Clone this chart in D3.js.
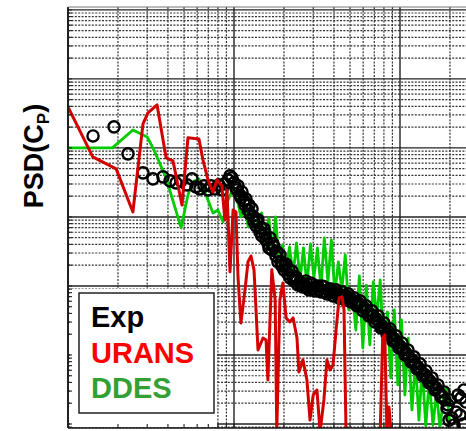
<!DOCTYPE html>
<html>
<head>
<meta charset="utf-8">
<script src="https://cdn.jsdelivr.net/npm/d3@7"></script>
<style>
  html, body { margin: 0; padding: 0; background: #fff; }
  svg { display: block; }
</style>
</head>
<body>
<svg id="chart" width="466" height="431"></svg>
<script>
// Experimental spectrum (measured frequencies and PSD of Cp)
const expFreq = [
  1.415, 1.893, 2.298, 2.83, 3.25, 3.736, 4.117, 4.474, 4.795, 5.21,
  5.585, 5.90, 6.24, 6.60, 6.97, 7.27, 7.68, 8.12, 8.47, 8.83,
  9.20, 9.46, 9.72, 10.0, 10.28, 10.57, 10.87, 11.17, 11.49, 11.81,
  12.14, 12.49, 12.84, 13.2, 13.57, 13.95, 14.34, 14.75, 15.16, 15.59,
  16.03, 16.48, 16.94, 17.42, 17.91, 18.41, 18.93, 19.46, 20.0, 20.57,
  21.15, 21.75, 22.36, 22.98, 23.63, 24.29, 24.97, 26.04, 27.15, 28.3,
  29.5, 30.76, 32.06, 33.42, 34.84, 36.33, 37.87, 39.48, 41.17, 42.91,
  44.74, 46.65, 48.62, 50.69, 52.85, 55.08, 57.41, 59.85, 62.4, 65.05,
  67.8, 70.7, 73.7, 76.8, 80.1, 83.5, 87.1, 90.8, 94.6, 98.6,
  102.8, 107.2, 111.7, 116.5, 121.4, 126.6, 132.0, 137.6, 143.4, 149.5,
  155.9, 162.5, 169.4, 176.6, 184.1, 191.9, 200.1, 205.7, 211.5, 217.5,
  223.6, 233.1, 242.9, 249.7, 229.8, 239.6, 197.4,
  10.42, 11.02, 11.65, 12.31, 13.02, 13.76, 14.54, 15.37, 16.25, 17.18,
  18.16, 19.19, 20.29, 21.45, 22.67, 23.96, 25.32, 26.41, 27.53, 28.70,
  29.92, 31.19, 32.52, 33.90, 35.34, 36.85, 38.41, 40.04, 41.74, 43.52,
  45.37, 47.30, 49.31, 51.40, 53.59, 55.86, 58.24, 60.71, 63.29, 65.98,
  68.78, 71.71, 74.75, 77.93, 81.24, 84.69, 88.29, 92.04, 95.95, 100.0,
  104.2, 108.7, 113.3, 118.1, 123.1, 128.3, 133.8, 139.5, 145.4, 151.6,
  158.0, 164.8, 171.8, 179.1, 186.7, 194.6
];
const expPsd = [
  1.49e-2, 2.02e-2, 8.2e-3, 4.35e-3, 3.56e-3, 3.8e-3, 3.33e-3, 3.11e-3, 3.33e-3, 2.91e-3,
  3.56e-3, 2.72e-3, 2.55e-3, 2.82e-3, 2.46e-3, 2.82e-3, 2.55e-3, 2.91e-3, 2.46e-3, 3.01e-3,
  3.44e-3, 3.93e-3, 3.68e-3, 3.11e-3, 2.63e-3, 2.82e-3, 2.08e-3, 2.3e-3, 1.71e-3, 1.82e-3,
  1.26e-3, 1.1e-3, 1.31e-3, 8.48e-4, 7.42e-4, 9.06e-4, 6.07e-4, 5.31e-4, 6.71e-4, 4.65e-4,
  4.07e-4, 4.97e-4, 3.33e-4, 3.68e-4, 2.72e-4, 2.23e-4, 2.82e-4, 1.95e-4, 1.71e-4, 2.08e-4,
  1.49e-4, 1.31e-4, 1.65e-4, 1.18e-4, 1.35e-4, 1.03e-4, 1.14e-4, 9.69e-5, 1.18e-4, 8.76e-5,
  1.07e-4, 8.48e-5, 1.0e-4, 8.2e-5, 9.69e-5, 7.67e-5, 9.06e-5, 7.17e-5, 8.76e-5, 6.71e-5,
  8.2e-5, 6.28e-5, 7.67e-5, 5.87e-5, 6.71e-5, 5.14e-5, 6.07e-5, 4.35e-5, 5.14e-5, 3.68e-5,
  4.35e-5, 3.01e-5, 3.68e-5, 2.46e-5, 2.91e-5, 2.02e-5, 2.38e-5, 1.6e-5, 1.89e-5, 1.26e-5,
  1.49e-5, 1.0e-5, 1.18e-5, 7.93e-6, 9.37e-6, 6.28e-6, 7.42e-6, 4.97e-6, 5.87e-6, 3.93e-6,
  4.65e-6, 3.11e-6, 3.68e-6, 2.46e-6, 2.91e-6, 1.71e-6, 2.23e-6, 1.22e-6, 9.69e-7, 1.49e-6,
  2.63e-6, 2.38e-6, 3.11e-6, 2.08e-6, 1.35e-6, 1.0e-6, 1.14e-6,
  2.46e-3, 1.89e-3, 1.49e-3, 1.49e-3, 1.03e-3, 8.48e-4, 6.94e-4, 5.68e-4, 3.56e-4, 4.07e-4,
  3.11e-4, 2.23e-4, 1.95e-4, 1.71e-4, 1.35e-4, 1.22e-4, 1.0e-4, 1.07e-4, 9.37e-5, 1.1e-4,
  9.06e-5, 9.69e-5, 8.76e-5, 1.0e-4, 8.2e-5, 8.76e-5, 7.93e-5, 8.2e-5, 7.67e-5, 7.42e-5,
  6.94e-5, 7.17e-5, 6.49e-5, 6.28e-5, 5.68e-5, 5.68e-5, 5.14e-5, 4.8e-5, 4.35e-5, 3.93e-5,
  3.68e-5, 3.33e-5, 3.01e-5, 2.63e-5, 2.38e-5, 2.23e-5, 1.89e-5, 1.71e-5, 1.49e-5, 1.35e-5,
  1.22e-5, 1.07e-5, 9.37e-6, 8.48e-6, 7.42e-6, 6.71e-6, 5.87e-6, 5.31e-6, 4.65e-6, 4.2e-6,
  3.68e-6, 3.33e-6, 2.91e-6, 2.55e-6, 2.23e-6, 1.89e-6
];

// URANS spectrum
const uransFreq = [
  1.0, 1.41, 1.95, 2.46, 2.83, 3.03, 3.44, 3.9, 4.29, 4.86,
  5.28, 6.15, 6.5, 6.97, 7.47, 7.9, 8.45, 8.81, 9.07, 9.46,
  9.87, 10.28, 10.57, 11.0, 11.65, 12.14, 12.66, 13.2, 13.95, 14.95,
  15.6, 16.0, 16.9, 17.7, 18.1, 18.9, 19.7, 20.6, 21.7, 22.7,
  23.96, 24.6, 26.0, 27.5, 28.7, 30.0, 31.6, 33.0, 34.8, 36.3,
  37.9, 39.5, 41.2, 43.0, 44.8, 46.0, 47.3, 76.0, 78.6, 81.0,
  83.4, 85.8, 88.3
];
const uransPsd = [
  3.93e-2, 7.42e-3, 4.97e-3, 1.18e-3, 2.23e-2, 3.22e-2, 4.2e-2, 7.17e-3, 6.49e-3, 1.49e-3,
  1.4e-2, 1.35e-2, 6.71e-3, 3.44e-3, 2.3e-3, 3.44e-3, 2.82e-3, 9.06e-4, 2.46e-3, 1.6e-4,
  1.26e-3, 1.18e-3, 1.35e-4, 2.91e-5, 8.76e-5, 2.23e-4, 2.72e-4, 1.71e-4, 1.18e-5, 1.76e-5,
  1.65e-5, 4.35e-6, 1.71e-4, 6.28e-5, 7.67e-7, 6.28e-5, 1.1e-4, 3.44e-5, 3.01e-5, 3.44e-5,
  1.76e-5, 5.68e-6, 8.48e-6, 4.35e-6, 1.14e-6, 2.63e-6, 3.11e-6, 7.67e-7, 2.23e-6, 8.48e-6,
  6.07e-6, 7.17e-6, 2.3e-5, 6.71e-5, 6.94e-5, 4.5e-5, 7.67e-7, 7.67e-7, 1.76e-5, 1.95e-5,
  7.67e-7, 1.76e-6, 7.67e-7
];

// DDES spectrum
const ddesFreq = [
  1.0, 1.85, 2.46, 3.0, 3.25, 3.9, 4.8, 5.28, 5.66, 6.15,
  6.5, 6.97, 7.47, 8.0, 8.58, 9.07, 9.6,
  10, 10.5, 11, 11.6, 12.2, 12.8, 13.4, 14, 14.7, 15.4,
  16.2, 17, 17.8, 18.7, 19.6, 20.6, 21.6, 22.7, 23.8, 25,
  26.2, 27.5, 28.9, 30.3, 31.8, 33.4, 35, 36.8, 38.6, 40.5,
  42.5, 44.6, 46.8, 49.1, 51.6, 54.2, 56.9, 59.7, 62.7, 65.8,
  69, 72.5, 76, 80, 84, 88, 92.4, 97, 102, 107,
  112, 118, 124, 130, 136, 143, 150, 158, 166, 174,
  183, 192, 200
];
const ddesPsd = [
  1.0e-2, 1.0e-2, 1.82e-2, 1.44e-2, 1.0e-2, 3.68e-3, 6.94e-4, 2.08e-3, 3.22e-3, 3.56e-3,
  2.72e-3, 1.76e-3, 1.14e-3, 1.26e-3, 8.48e-4, 1.6e-3, 2.23e-3,
  2.46e-3, 1.76e-3, 1.0e-3, 1.40e-3, 7.17e-4, 1.35e-3, 6.07e-4, 9.69e-4, 1.14e-3, 4.2e-4,
  9.7e-4, 3.11e-4, 1.0e-3, 2.16e-4, 3.93e-4, 1.82e-4, 3.68e-4, 1.44e-4, 4.2e-4, 1.22e-4,
  3.56e-4, 1.03e-4, 4.07e-4, 1.31e-4, 3.56e-4, 9.37e-5, 4.97e-4, 1.14e-4, 4.65e-4, 7.42e-5,
  2.23e-4, 8.76e-5, 2.82e-4, 4.5e-5, 8.76e-5, 2.3e-5, 1.40e-4, 1.26e-5, 1.03e-4, 1.40e-5,
  1.14e-4, 3.44e-5, 1.22e-4, 1.0e-5, 4.2e-5, 4.65e-6, 4.5e-5, 3.68e-6, 3.22e-5, 2.63e-6,
  1.76e-5, 1.6e-6, 7.93e-6, 1.14e-6, 6.49e-6, 9.37e-7, 4.35e-6, 9.69e-7, 2.91e-6, 8.76e-7,
  2.46e-6, 3.44e-6, 7.67e-7
];

const legendLabels = ["Exp", "URANS", "DDES"];
const legendColors = ["#000000", "#ff0000", "#33a033"];
const lineColors = { urans: "#d40000", ddes: "#00cc00" };

// ---- layout ----
const plot = { left: 68, right: 566, top: 7, bottom: 428 };
const svg = d3.select("#chart");

const x = d3.scaleLog().domain([1, 1000]).range([plot.left, plot.right]);
const y = d3.scaleLog().domain([8.75e-7, 1.1]).range([plot.bottom, plot.top]);

// grid values: decades and the 2..9 subdivisions
const xMajor = [1, 10, 100, 1000];
const xMinor = [];
[1, 10, 100].forEach(d => { for (let k = 2; k <= 9; k++) xMinor.push(k * d); });
const yMajor = [1e-6, 1e-5, 1e-4, 1e-3, 1e-2, 1e-1, 1];
const yMinor = [];
[1e-7, 1e-6, 1e-5, 1e-4, 1e-3, 1e-2, 1e-1].forEach(d => {
  for (let k = 2; k <= 9; k++) {
    const v = k * d;
    if (v >= y.domain()[0] && v <= y.domain()[1]) yMinor.push(v);
  }
});

const grid = svg.append("g");
grid.selectAll("line.xmin").data(xMinor).join("line")
  .attr("x1", d => x(d)).attr("x2", d => x(d))
  .attr("y1", plot.top).attr("y2", plot.bottom)
  .attr("stroke", "#333").attr("stroke-width", 1.2).attr("stroke-dasharray", "2,1.4");
grid.selectAll("line.ymin").data(yMinor).join("line")
  .attr("y1", d => y(d)).attr("y2", d => y(d))
  .attr("x1", plot.left).attr("x2", plot.right)
  .attr("stroke", "#333").attr("stroke-width", 1.2).attr("stroke-dasharray", "2,1.4");
grid.selectAll("line.xmaj").data(xMajor).join("line")
  .attr("x1", d => x(d)).attr("x2", d => x(d))
  .attr("y1", plot.top).attr("y2", plot.bottom)
  .attr("stroke", "#222").attr("stroke-width", 1.4);
grid.selectAll("line.ymaj").data(yMajor).join("line")
  .attr("y1", d => y(d)).attr("y2", d => y(d))
  .attr("x1", plot.left).attr("x2", plot.right)
  .attr("stroke", "#222").attr("stroke-width", 1.4);

// ---- data ----
svg.append("clipPath").attr("id", "plotClip")
  .append("rect")
  .attr("x", plot.left).attr("y", plot.top)
  .attr("width", plot.right - plot.left).attr("height", plot.bottom - plot.top);

const dataG = svg.append("g").attr("clip-path", "url(#plotClip)");

const expData = expFreq.map((f, i) => ({ f, p: expPsd[i] }));
const uransData = uransFreq.map((f, i) => ({ f, p: uransPsd[i] }));
const ddesData = ddesFreq.map((f, i) => ({ f, p: ddesPsd[i] }));

const line = d3.line().x(d => x(d.f)).y(d => y(d.p));

// DDES underneath, experiment circles over it, URANS on top
dataG.append("path").datum(ddesData)
  .attr("d", line).attr("fill", "none")
  .attr("stroke", lineColors.ddes).attr("stroke-width", 2.8)
  .attr("stroke-linejoin", "round");

dataG.selectAll("circle").data(expData).join("circle")
  .attr("cx", d => x(d.f)).attr("cy", d => y(d.p)).attr("r", 5.6)
  .attr("fill", "none").attr("stroke", "#000").attr("stroke-width", 2.4);

dataG.append("path").datum(uransData)
  .attr("d", line).attr("fill", "none")
  .attr("stroke", lineColors.urans).attr("stroke-width", 3)
  .attr("stroke-linejoin", "round");

// ---- legend ----
const lg = svg.append("g");
lg.append("rect")
  .attr("x", plot.left + 2).attr("y", 289)
  .attr("width", 147).attr("height", plot.bottom - 289 - 1)
  .attr("fill", "#fff");
lg.append("rect")
  .attr("x", 79).attr("y", 293).attr("width", 135).attr("height", 120)
  .attr("fill", "#fff").attr("stroke", "#222").attr("stroke-width", 1.5);
lg.selectAll("text").data(legendLabels).join("text")
  .attr("x", 91).attr("y", (d, i) => 327 + i * 35.5)
  .attr("fill", (d, i) => legendColors[i])
  .attr("font-family", "'Liberation Sans', Arial, sans-serif")
  .attr("font-weight", "bold").attr("font-size", 29)
  .text(d => d);

// ---- frame and inner ticks ----
const frame = svg.append("g");
frame.append("line").attr("x1", plot.left).attr("x2", plot.left)
  .attr("y1", plot.top).attr("y2", plot.bottom)
  .attr("stroke", "#111").attr("stroke-width", 1.6);
frame.append("line").attr("x1", plot.left).attr("x2", plot.right)
  .attr("y1", plot.bottom).attr("y2", plot.bottom)
  .attr("stroke", "#111").attr("stroke-width", 1.6);
frame.append("line").attr("x1", plot.left).attr("x2", plot.right)
  .attr("y1", plot.top).attr("y2", plot.top)
  .attr("stroke", "#777").attr("stroke-width", 1.2);

frame.selectAll("line.ty").data(yMinor.concat(yMajor)).join("line")
  .attr("x1", plot.left).attr("x2", plot.left + 4)
  .attr("y1", d => y(d)).attr("y2", d => y(d))
  .attr("stroke", "#222").attr("stroke-width", 1.1);
frame.selectAll("line.tx").data(xMinor.concat(xMajor)).join("line")
  .attr("x1", d => x(d)).attr("x2", d => x(d))
  .attr("y1", plot.bottom).attr("y2", plot.bottom - 4)
  .attr("stroke", "#222").attr("stroke-width", 1.1);

// ---- y axis title ----
const yt = svg.append("text")
  .attr("transform", "translate(43,156) rotate(-90)")
  .attr("text-anchor", "middle")
  .attr("font-family", "'Liberation Sans', Arial, sans-serif")
  .attr("font-weight", "bold").attr("font-size", 27)
  .attr("fill", "#000");
yt.append("tspan").text("PSD(C");
yt.append("tspan").attr("font-size", 17).attr("dy", 6).text("P");
yt.append("tspan").attr("dy", -6).text(")");
</script>
</body>
</html>
